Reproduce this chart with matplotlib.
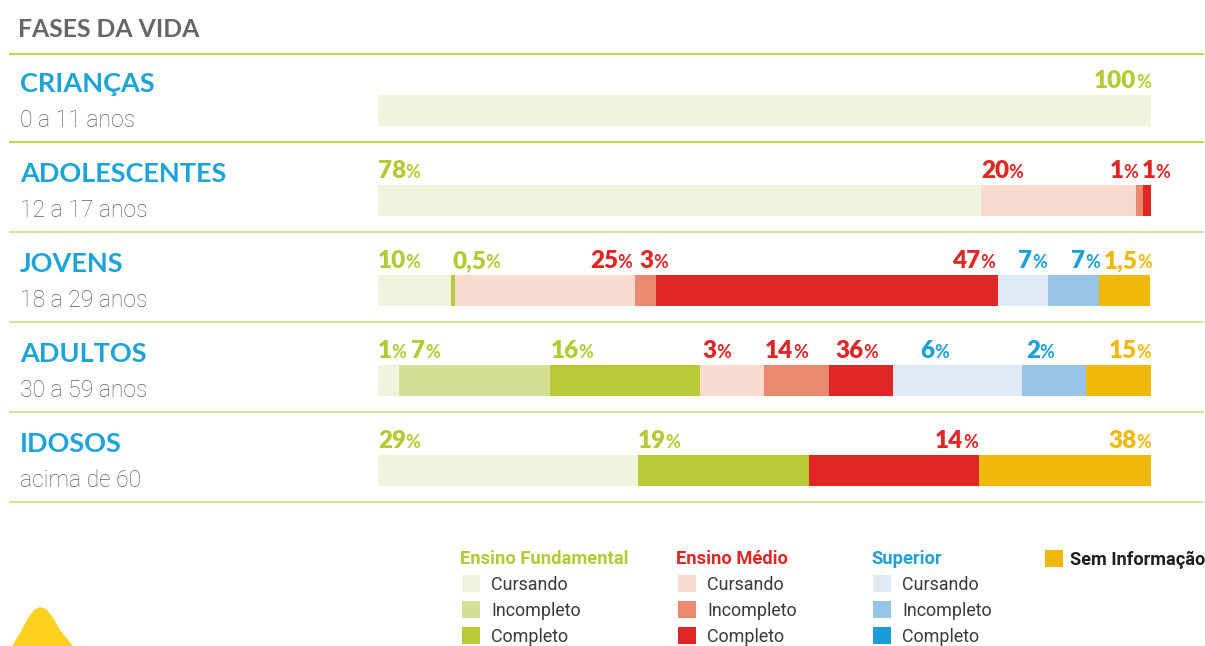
import matplotlib
matplotlib.use("Agg")
import matplotlib.pyplot as plt
from matplotlib.transforms import IdentityTransform
from matplotlib.lines import Line2D
from matplotlib.patches import Rectangle, Polygon

# ---------------- data ----------------
groups = ["CRIANÇAS", "ADOLESCENTES", "JOVENS", "ADULTOS", "IDOSOS"]
ages = ["0 a 11 anos", "12 a 17 anos", "18 a 29 anos", "30 a 59 anos", "acima de 60"]

# segment categories per row (FC = Fundamental Cursando, ... SEM = Sem Informação)
cats_criancas = ["FC"]
cats_adolescentes = ["FC", "MC", "MI", "MCo"]
cats_jovens = ["FC", "FCo", "MC", "MI", "MCo", "SC", "SI", "SEM"]
cats_adultos = ["FC", "FI", "FCo", "MC", "MI", "MCo", "SC", "SI", "SEM"]
cats_idosos = ["FC", "FCo", "MCo", "SEM"]

# drawn segment lengths (% of bar length)
len_criancas = [100]
len_adolescentes = [78, 20, 1, 1]
len_jovens = [9.4, 0.5, 23.4, 2.7, 44.2, 6.5, 6.6, 6.6]
len_adultos = [2.7, 19.5, 19.4, 8.3, 8.4, 8.3, 16.7, 8.3, 8.4]
len_idosos = [33.6, 22.1, 22.0, 22.3]

# printed percentage labels
lab_criancas = ["100"]
lab_adolescentes = ["78", "20", "1", "1"]
lab_jovens = ["10", "0,5", "25", "3", "47", "7", "7", "1,5"]
lab_adultos = ["1", "7", "16", "3", "14", "36", "6", "2", "15"]
lab_idosos = ["29", "19", "14", "38"]

# ---------------- layout (label anchors in bar units, alignment) ----------------
lx_criancas = [100]
lx_adolescentes = [0, 78, 98.3, 98.8]
lx_jovens = [0, 9.6, 32.9, 33.8, 79.8, 86.5, 93.4, 100.2]
lx_adultos = [0, 4.3, 22.3, 42.0, 50.1, 59.2, 70.2, 83.8, 100]
lx_idosos = [0, 33.6, 77.6, 100]
ha_criancas = ["right"]
ha_adolescentes = ["left", "left", "right", "left"]
ha_jovens = ["left", "left", "right", "left", "right", "right", "right", "right"]
ha_adultos = ["left", "left", "left", "left", "left", "left", "left", "left", "right"]
ha_idosos = ["left", "left", "right", "right"]

rows = [
    (cats_criancas, len_criancas, lab_criancas, lx_criancas, ha_criancas),
    (cats_adolescentes, len_adolescentes, lab_adolescentes, lx_adolescentes, ha_adolescentes),
    (cats_jovens, len_jovens, lab_jovens, lx_jovens, ha_jovens),
    (cats_adultos, len_adultos, lab_adultos, lx_adultos, ha_adultos),
    (cats_idosos, len_idosos, lab_idosos, lx_idosos, ha_idosos),
]

GREEN = "#B5C935"
RED = "#DF2826"
BLUE = "#1EA0D6"
YELLOW = "#F0B90A"
fill = {
    "FC": "#EFF4DD", "FI": "#D6DF96", "FCo": "#B8CA35",
    "MC": "#F8DAD0", "MI": "#EB8970", "MCo": "#DF2826",
    "SC": "#DFEAF5", "SI": "#98C4E6", "SCo": "#1A9DD6",
    "SEM": "#F0B90A",
}
text_col = {"F": GREEN, "M": RED, "S": BLUE}


def tcol(c):
    if c == "SEM":
        return YELLOW
    return text_col[c[0]]


W, H = 1205, 646
fig = plt.figure(figsize=(W / 100, H / 100), dpi=100)
fig.patch.set_facecolor("white")

# bar axes: rows centred ~110 + 90*i px from top
ax_top, ax_bot = 65.3, 515.3
ax = fig.add_axes([378 / W, 1 - ax_bot / H, 773 / W, (ax_bot - ax_top) / H])
ax.set_xlim(0, 100)
ax.set_ylim(len(groups) - 0.5, -0.5)
ax.axis("off")

BAR_H = 0.344
for i, (cats, lens, labs, lxs, has) in enumerate(rows):
    left = 0
    for c, w in zip(cats, lens):
        ax.barh(i, w, left=left, height=BAR_H, color=fill[c], linewidth=0)
        left += w

renderer = fig.canvas.get_renderer()
ident = IdentityTransform()

NUM_FONT = "Lato"
NUM_SIZE = 17.5
PCT_SIZE = 13


def pct_label(xd, yd, num, ha, color):
    x, y = ax.transData.transform((xd, yd))
    y = y + 7
    if ha == "left":
        t = fig.text(x, y, num, transform=ident, ha="left", va="baseline",
                     fontsize=NUM_SIZE, fontweight="heavy", color=color, family=NUM_FONT)
        bb = t.get_window_extent(renderer)
        fig.text(bb.x1 - 0.5, y, "%", transform=ident, ha="left", va="baseline",
                 fontsize=PCT_SIZE, fontweight="bold", color=color, family=NUM_FONT)
    else:
        p = fig.text(x, y, "%", transform=ident, ha="right", va="baseline",
                     fontsize=PCT_SIZE, fontweight="bold", color=color, family=NUM_FONT)
        bb = p.get_window_extent(renderer)
        fig.text(bb.x0 + 0.5, y, num, transform=ident, ha="right", va="baseline",
                 fontsize=NUM_SIZE, fontweight="heavy", color=color, family=NUM_FONT)


for i, (cats, lens, labs, lxs, has) in enumerate(rows):
    for c, lab, lx, ha in zip(cats, labs, lxs, has):
        pct_label(lx, i - BAR_H / 2, lab, ha, tcol(c))

# row names, subtitles, separators
for i, (g, a) in enumerate(zip(groups, ages)):
    _, yc = ax.transData.transform((0, i))
    fig.text(20, yc + 18.5, g, transform=ident, ha="left", va="baseline",
             fontsize=19.5, fontweight="bold", color="#1EA3D8", family="Lato")
    fig.text(20, yc - 16.5, a, transform=ident, ha="left", va="baseline",
             fontsize=16.5, fontweight="light", color="#5E5E5E", family="Roboto")
    sep_col = "#BFD12F" if i == 0 else "#D3E192"
    fig.add_artist(Line2D([10, 1203], [yc - 31.5, yc - 31.5], transform=ident,
                          color=sep_col, linewidth=1.3))

# title
fig.text(18, H - 37, "FASES DA VIDA", transform=ident, ha="left", va="baseline",
         fontsize=17.8, fontweight="bold", color="#666666", family="Lato")
fig.add_artist(Line2D([10, 1203], [H - 54, H - 54], transform=ident,
                      color="#BFD12F", linewidth=1.3))

# legend
legend_groups = [
    ("Ensino Fundamental", GREEN, ["FC", "FI", "FCo"], 460),
    ("Ensino Médio", RED, ["MC", "MI", "MCo"], 676),
    ("Superior", BLUE, ["SC", "SI", "SCo"], 871),
]
item_names = ["Cursando", "Incompleto", "Completo"]
item_base = [590, 616, 642]
for title, col, keys, x0 in legend_groups:
    fig.text(x0, H - 564, title, transform=ident, ha="left", va="baseline",
             fontsize=13.2, fontweight="bold", color=col, family="Roboto")
    for k, name, yb in zip(keys, item_names, item_base):
        fig.add_artist(Rectangle((x0 + 2, H - yb - 2), 18, 17, transform=ident,
                                 facecolor=fill[k], edgecolor="none"))
        fig.text(x0 + 31, H - yb, name, transform=ident, ha="left", va="baseline",
                 fontsize=12.9, color="#3A3A3A", family="Roboto")

fig.add_artist(Rectangle((1045, H - 567), 18, 17, transform=ident,
                         facecolor=fill["SEM"], edgecolor="none"))
fig.text(1070, H - 565, "Sem Informação", transform=ident, ha="left", va="baseline",
         fontsize=13.1, fontweight="bold", color="#1E1E1E", family="Roboto")

# decorative yellow blob bottom-left
blob = [(12, 0), (20, 13), (28, 28), (34, 36), (40, 39), (46, 37), (52, 30),
        (60, 16), (73, 0)]
fig.add_artist(Polygon(blob, closed=True, transform=ident,
                       facecolor="#FDD11E", edgecolor="none"))

fig.savefig("out.png", dpi=100, facecolor="white")
